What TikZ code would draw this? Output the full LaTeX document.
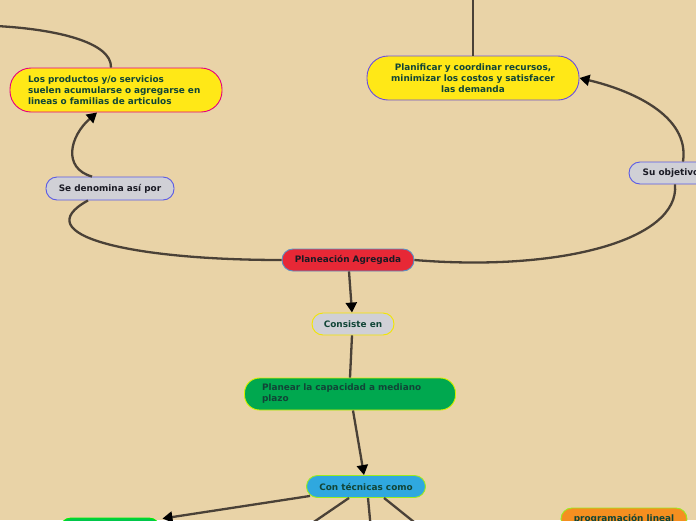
\documentclass[tikz,border=0pt]{standalone}
\usepackage{fontspec}
\setmainfont{DejaVu Sans}
\usetikzlibrary{arrows.meta}
\definecolor{paper}{HTML}{E9D3A7}
\definecolor{linkc}{HTML}{4A4137}
\definecolor{inkg}{HTML}{114537}
\definecolor{inkd}{HTML}{1A1A24}
\definecolor{yell}{HTML}{FFE817}
\definecolor{grey}{HTML}{D0D0D6}
\definecolor{redc}{HTML}{E72836}
\definecolor{greenc}{HTML}{00A84F}
\definecolor{bluec}{HTML}{2FA8DF}
\definecolor{orangec}{HTML}{F58F20}
\definecolor{limec}{HTML}{9CEB1E}
\definecolor{magc}{HTML}{E5007E}
\definecolor{violc}{HTML}{6A4FE0}
\definecolor{blued}{HTML}{5A5AE6}
\definecolor{steelc}{HTML}{5A8FC4}
\definecolor{yellb}{HTML}{F2E600}
\definecolor{yellg}{HTML}{D6F000}
\definecolor{brightg}{HTML}{00F000}
\definecolor{greenf}{HTML}{00C84A}
\begin{document}
\begin{tikzpicture}[x=1pt,y=1pt]
\tikzstyle{every node}+=[inner sep=0pt, font=\bfseries\fontsize{8.9}{11}\selectfont]
\tikzstyle{topic}=[draw, line width=0.9pt, rounded corners=11pt, minimum height=22pt]
\tikzstyle{bigtopic}=[topic, rounded corners=21pt, minimum height=44pt, minimum width=212pt, text width=176pt]
\tikzstyle{link}=[linkc, line width=2.3pt]
\tikzstyle{tip}=[-{Triangle[color=black, length=10pt, width=11pt]}]
\useasboundingbox (0,0) rectangle (696,-520);
\fill [paper] (0,0) rectangle (696,-520);
\node [bigtopic, draw=magc, fill=yell, text=inkg, align=left] (prod) at (116,-90) {Los productos y/o servicios\\suelen acumularse o agregarse en\\lineas o familias de articulos};
\node [bigtopic, draw=violc, fill=yell, text=inkg, align=center] (plan) at (473,-78) {Planificar y coordinar recursos,\\minimizar los costos y satisfacer\\las demanda};
\node [topic, draw=blued, fill=grey, text=inkd, minimum width=128pt, minimum height=23pt] (deno) at (110,-188.5) {Se denomina así por};
\node [topic, draw=blued, fill=grey, text=inkd, minimum width=84pt] (obj) at (671,-173) {Su objetivo};
\node [topic, draw=steelc, fill=redc, text=inkd, minimum width=132pt] (agr) at (348,-260) {Planeación Agregada};
\node [topic, draw=yellb, fill=grey, text=inkg, minimum width=82pt] (cons) at (353,-324) {Consiste en};
\node [topic, draw=yellg, fill=greenc, text=inkg, rounded corners=15pt, minimum width=211pt, minimum height=32pt, text width=176pt, align=left] (capa) at (350,-394) {Planear la capacidad a mediano\\plazo};
\node [topic, draw=limec, fill=bluec, text=inkg, minimum width=119pt] (tec) at (366,-486.5) {Con técnicas como};
\node [topic, draw=brightg, fill=greenf, minimum width=100pt, minimum height=24pt] (tecA) at (110,-530) {};
\node [topic, draw=limec, fill=orangec, text=inkg, minimum width=126pt] (tecB) at (624,-519) {programación lineal};
\coordinate (up) at (473,8);
\coordinate (left) at (-4,-26);
\coordinate (tecC) at (305,-528);
\coordinate (tecD) at (371,-530);
\coordinate (tecE) at (424,-530);
\draw [link] (up) -- (plan.north);
\draw [link] (left) .. controls (55,-29) and (112,-42) .. ([xshift=-5pt]prod.north);
\draw [link, tip] ([xshift=-18pt]deno.north) .. controls (62,-168) and (70,-136) .. ([xshift=-19pt]prod.south);
\draw [link] (agr.west) .. controls (130,-260) and (25,-235) .. ([xshift=-22pt]deno.south);
\draw [link] (agr.east) .. controls (560,-272) and (680,-240) .. ([xshift=4pt]obj.south);
\draw [link, tip] ([xshift=12pt]obj.north) .. controls (690,-115) and (630,-90) .. (plan.east);
\draw [link, tip] ([xshift=1pt]agr.south) -- ([xshift=-1pt]cons.north);
\draw [link] ([xshift=-1pt]cons.south) -- (capa.north);
\draw [link, tip] ([xshift=3pt]capa.south) -- ([xshift=-2pt]tec.north);
\draw [link, tip] ([shift={(4pt,2pt)}]tec.south west) -- ([shift={(2pt,-1pt)}]tecA.north east);
\draw [link] ([xshift=-17pt]tec.south) -- (tecC);
\draw [link] ([xshift=2pt]tec.south) -- (tecD);
\draw [link] ([xshift=18pt]tec.south) -- (tecE);
\end{tikzpicture}
\end{document}
